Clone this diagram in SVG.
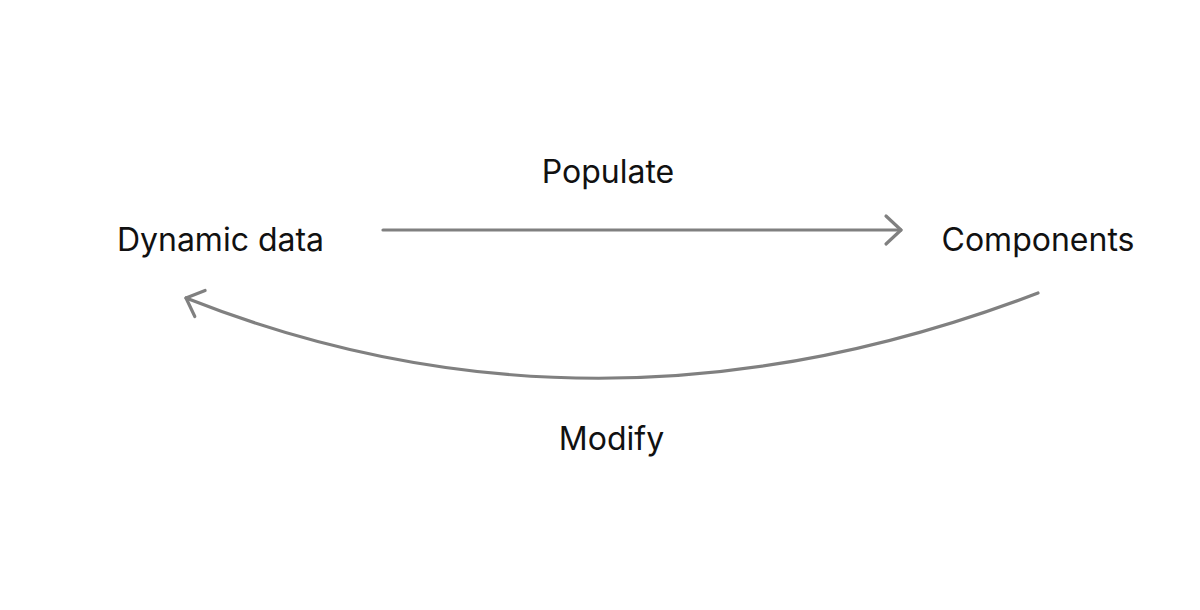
<svg xmlns="http://www.w3.org/2000/svg" width="1200" height="610" viewBox="0 0 1200 610">
<style>
.lbl{font-family:Inter,"DejaVu Sans",sans-serif;font-size:32px;fill:#111;text-anchor:middle}
.conn{fill:none;stroke:#808080;stroke-width:3.2;stroke-linecap:round}
</style>
<defs>
<marker id="chev" markerUnits="userSpaceOnUse" markerWidth="40" markerHeight="40" refX="0" refY="0" viewBox="-20 -20 40 40" orient="auto" overflow="visible">
<path d="M-15,-14 L0,0 L-15,14" fill="none" stroke="#808080" stroke-width="3.2" stroke-linecap="round" stroke-linejoin="round"/>
</marker>
</defs>
<rect width="1200" height="610" fill="#fff"/>
<g id="connectors">
<path class="conn" d="M383,230 L901,230" marker-end="url(#chev)"/>
<path class="conn" d="M1038,293 Q598,461 186,298" marker-end="url(#chev)"/>
</g>
<g id="node-dynamic-data"><text class="lbl" x="220.5" y="251">Dynamic data</text></g>
<g id="node-components"><text class="lbl" x="1038" y="251">Components</text></g>
<g id="label-populate"><text class="lbl" x="608" y="183">Populate</text></g>
<g id="label-modify"><text class="lbl" x="611.5" y="450">Modify</text></g>
</svg>
